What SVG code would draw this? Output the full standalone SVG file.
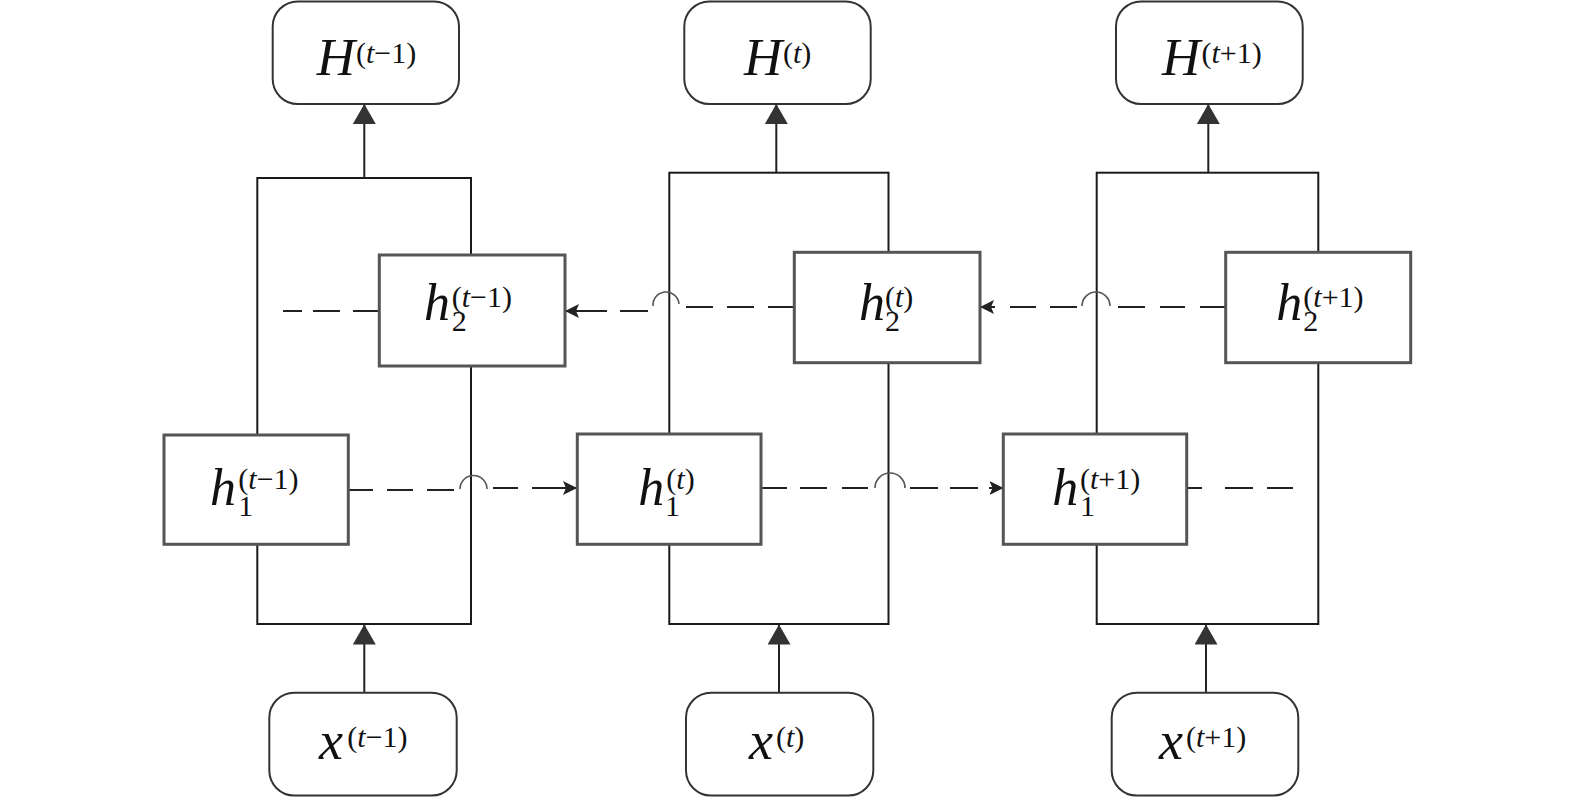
<svg xmlns="http://www.w3.org/2000/svg" width="1575" height="797" viewBox="0 0 1575 797">
<style>
.bg{fill:#fff}
.outer{fill:none;stroke:#1a1a1a;stroke-width:2}
.hbox{fill:#fff;stroke:#555;stroke-width:3}
.rbox{fill:#fff;stroke:#333;stroke-width:2}
.conn{fill:none;stroke:#222;stroke-width:2}
.jump{fill:none;stroke:#555;stroke-width:1.6}
.main{fill:#111}
</style>
<defs>
<marker id="arrowV" viewBox="0 0 20 23" refX="20" refY="11.5" markerWidth="20" markerHeight="23" markerUnits="userSpaceOnUse" orient="auto">
<path d="M0,0 L20,11.5 L0,23 z" fill="#333"/>
</marker>
<marker id="arrowH" viewBox="0 0 14 14" refX="14" refY="7" markerWidth="14" markerHeight="14" markerUnits="userSpaceOnUse" orient="auto">
<path d="M0,0 L14,7 L0,14 L3,7 z" fill="#222"/>
</marker>
</defs>
<rect class="bg" x="0" y="0" width="1575" height="797"/>

<g id="frames">
<rect class="outer" x="257.3" y="178" width="213.7" height="446"/>
<rect class="outer" x="669.3" y="172.7" width="219.2" height="451.3"/>
<rect class="outer" x="1096.7" y="172.7" width="221.6" height="451.3"/>
</g>

<g id="connectors">
<path class="conn" d="M364.3,178 V104" marker-end="url(#arrowV)"/>
<path class="conn" d="M776.3,172.7 V104" marker-end="url(#arrowV)"/>
<path class="conn" d="M1208.3,172.7 V104" marker-end="url(#arrowV)"/>
<path class="conn" d="M364.3,692.7 V624.5" marker-end="url(#arrowV)"/>
<path class="conn" d="M779,692.7 V624.5" marker-end="url(#arrowV)"/>
<path class="conn" d="M1206,692.7 V624.5" marker-end="url(#arrowV)"/>
<path class="conn" d="M379,311 H353 M340,311 H313 M302,311 H283"/>
<path class="conn" d="M794,307 H768 M754,307 H727 M713,307 H686 M648,311 H620 M607,311 H565" marker-end="url(#arrowH)"/>
<path class="jump" d="M653,306 A13,13 0 0 1 679,304"/>
<path class="conn" d="M1226,307 H1200 M1185,307 H1160 M1145,307 H1118 M1077,307 H1050 M1036,307 H1010 M995,307 H980" marker-end="url(#arrowH)"/>
<path class="jump" d="M1082,306 A14,14 0 0 1 1110,306"/>
<path class="conn" d="M348,490 H373 M387,490 H413 M427,490 H454 M493,488 H518 M532,488 H577" marker-end="url(#arrowH)"/>
<path class="jump" d="M460,489 A13.5,13.5 0 0 1 487,489"/>
<path class="conn" d="M761,488 H787 M800,488 H827 M842,488 H868 M910,488 H938 M950,488 H978 M989,488 H1003.5" marker-end="url(#arrowH)"/>
<path class="jump" d="M875,488 A15,15 0 0 1 905,488"/>
<path class="conn" d="M1187,488 H1202 M1225,488 H1253 M1267,488 H1293"/>
</g>

<g id="H_tm1">
<rect class="rbox" x="272.7" y="1.5" width="186.3" height="102.5" rx="25"/>
<text class="main" font-family="Liberation Serif" font-size="53" font-style="italic" x="316.7" y="75">H<tspan font-size="30" font-style="normal" x="356" y="63.3">(<tspan font-style="italic">t</tspan>−1)</tspan></text>
</g>
<g id="H_t">
<rect class="rbox" x="684.3" y="1.5" width="186.4" height="102.5" rx="25"/>
<text class="main" font-family="Liberation Serif" font-size="53" font-style="italic" x="744" y="75">H<tspan font-size="30" font-style="normal" x="783" y="63.3">(<tspan font-style="italic">t</tspan>)</tspan></text>
</g>
<g id="H_tp1">
<rect class="rbox" x="1116" y="1.5" width="186.7" height="102.5" rx="25"/>
<text class="main" font-family="Liberation Serif" font-size="53" font-style="italic" x="1162" y="75">H<tspan font-size="30" font-style="normal" x="1201.5" y="63.3">(<tspan font-style="italic">t</tspan>+1)</tspan></text>
</g>

<g id="h2_tm1">
<rect class="hbox" x="379.3" y="255" width="185.7" height="111"/>
<text class="main" font-family="Liberation Serif" font-size="52" font-style="italic" x="424" y="320">h<tspan font-size="30" font-style="normal" x="451.7" y="331">2</tspan><tspan font-size="30" font-style="normal" x="451.7" y="307">(<tspan font-style="italic">t</tspan>−1)</tspan></text>
</g>
<g id="h2_t">
<rect class="hbox" x="794.3" y="252.3" width="185.7" height="110.4"/>
<text class="main" font-family="Liberation Serif" font-size="52" font-style="italic" x="859" y="320">h<tspan font-size="30" font-style="normal" x="885" y="331">2</tspan><tspan font-size="30" font-style="normal" x="885" y="307">(<tspan font-style="italic">t</tspan>)</tspan></text>
</g>
<g id="h2_tp1">
<rect class="hbox" x="1225.7" y="252.3" width="185" height="110.4"/>
<text class="main" font-family="Liberation Serif" font-size="52" font-style="italic" x="1276.3" y="320">h<tspan font-size="30" font-style="normal" x="1303.3" y="331">2</tspan><tspan font-size="30" font-style="normal" x="1303.3" y="307">(<tspan font-style="italic">t</tspan>+1)</tspan></text>
</g>

<g id="h1_tm1">
<rect class="hbox" x="164" y="435" width="184.3" height="109.3"/>
<text class="main" font-family="Liberation Serif" font-size="52" font-style="italic" x="210" y="505">h<tspan font-size="30" font-style="normal" x="238.3" y="516">1</tspan><tspan font-size="30" font-style="normal" x="238.3" y="489">(<tspan font-style="italic">t</tspan>−1)</tspan></text>
</g>
<g id="h1_t">
<rect class="hbox" x="577.3" y="434" width="183.7" height="110.3"/>
<text class="main" font-family="Liberation Serif" font-size="52" font-style="italic" x="638.3" y="505">h<tspan font-size="30" font-style="normal" x="665" y="516">1</tspan><tspan font-size="30" font-style="normal" x="666.3" y="489">(<tspan font-style="italic">t</tspan>)</tspan></text>
</g>
<g id="h1_tp1">
<rect class="hbox" x="1003.3" y="434" width="183.4" height="110.3"/>
<text class="main" font-family="Liberation Serif" font-size="52" font-style="italic" x="1052.3" y="505">h<tspan font-size="30" font-style="normal" x="1080" y="516">1</tspan><tspan font-size="30" font-style="normal" x="1080" y="489">(<tspan font-style="italic">t</tspan>+1)</tspan></text>
</g>

<g id="x_tm1">
<rect class="rbox" x="269.3" y="692.7" width="187.4" height="102.8" rx="25"/>
<text class="main" font-family="Liberation Serif" font-size="54" font-style="italic" x="319" y="759.3">x<tspan font-size="30" font-style="normal" x="347.3" y="746.7">(<tspan font-style="italic">t</tspan>−1)</tspan></text>
</g>
<g id="x_t">
<rect class="rbox" x="686" y="692.7" width="187.3" height="102.8" rx="25"/>
<text class="main" font-family="Liberation Serif" font-size="54" font-style="italic" x="749" y="759.3">x<tspan font-size="30" font-style="normal" x="776" y="746.7">(<tspan font-style="italic">t</tspan>)</tspan></text>
</g>
<g id="x_tp1">
<rect class="rbox" x="1111.7" y="692.7" width="186.6" height="102.8" rx="25"/>
<text class="main" font-family="Liberation Serif" font-size="54" font-style="italic" x="1159" y="759.3">x<tspan font-size="30" font-style="normal" x="1186" y="746.7">(<tspan font-style="italic">t</tspan>+1)</tspan></text>
</g>
</svg>
